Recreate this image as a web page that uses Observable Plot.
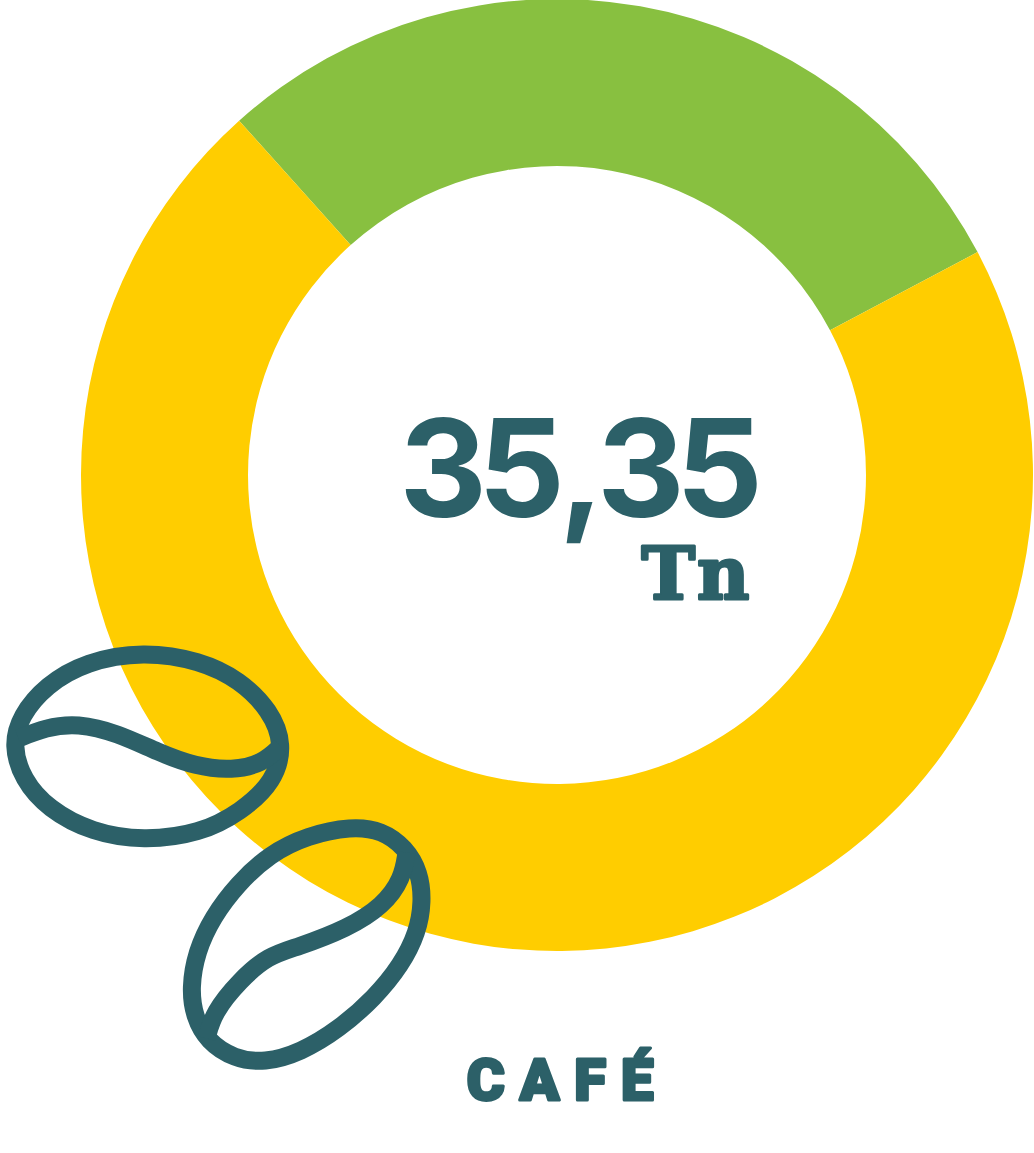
<!DOCTYPE html>
<html><head><meta charset="utf-8">
<script src="https://cdn.jsdelivr.net/npm/d3@7"></script>
<script src="https://cdn.jsdelivr.net/npm/@observablehq/plot@0.6"></script>
<style>html,body{margin:0;padding:0;background:#fff}svg{display:block}</style>
</head><body><div id="chart"></div>
<script>
const W = 1034, H = 1153;
const categories = ["Verde", "Amarillo"];
const values = [10.21, 25.14];
const colors = ["#88c040", "#ffcd00"];
const ink = "#2c6068";
const total = "35,35";
const unit = "Tn";
const title = "CAFÉ";

// decorative bean outlines (illustration, in page units)
const bean1Outline = [[15,745],[23,716],[48,686],[87,663],[143,653],[198,662],[237,681],[267,711],[280,744],[271,780],[238,810],[198,831],[143,838],[93,830],[50,807],[25,778]];
const bean1Seam = [[18,738],[45,727],[77,722.5],[117,732.5],[158,752],[195,766],[232,770],[262,763],[280,746]];
const bean2Outline = [[350,828],[380,832],[403,849],[417,873],[420,902],[415,932],[399,964],[373,996],[338,1027],[300,1050],[265,1060],[235,1056],[209,1039],[196,1015],[192,987],[198,951],[214,917],[238,885],[270,855],[307,837]];
const bean2Seam = [[406,852],[402,878],[383,905],[347,928],[296,947],[268,955],[239,980],[213,1012],[206,1038]];

const toPts = (a) => a.map(([x, y]) => ({x, y}));
const inflate = (a, k) => {
  const mx = d3.mean(a, d => d[0]), my = d3.mean(a, d => d[1]);
  return a.map(([x, y]) => [mx + (x - mx) * k, my + (y - my) * k]);
};

function donut(index, {x, y}) {
  const cx = x(557), cy = y(475), unitX = x(1) - x(0);
  const start = -41.9 * Math.PI / 180;
  const pie = d3.pie().sort(null).startAngle(start).endAngle(start + 2 * Math.PI)(values);
  const arc = d3.arc().innerRadius(309 * unitX).outerRadius(476 * unitX);
  const g = d3.create("svg:g").attr("transform", `translate(${cx},${cy})`);
  g.selectAll("path").data(pie).join("path").attr("d", arc).attr("fill", (d, i) => colors[i]);
  return g.node();
}

const spaced = (s, dx) => (i, sc, v, d, c, next) => {
  const g = next(i, sc, v, d, c);
  g.setAttribute("letter-spacing", s);
  if (dx) g.querySelectorAll("text").forEach(t => t.setAttribute("dx", dx));
  return g;
};
const beanLine = (pts, curve) => Plot.line(toPts(pts), {x:"x", y:"y", curve, stroke:ink, strokeWidth:18, strokeLinecap:"butt", strokeLinejoin:"round"});

const plot = Plot.plot({
  width: W, height: H, margin: 0,
  x: {domain: [0, W], range: [0, W], axis: null},
  y: {domain: [0, H], range: [0, H], axis: null},
  marks: [
    donut,
    beanLine(inflate(bean1Outline, 1.025), "basis-closed"),
    beanLine(bean1Seam, "basis"),
    beanLine(inflate(bean2Outline, 1.02), "basis-closed"),
    beanLine(bean2Seam, "basis"),
    Plot.text([total], {x:()=>576, y:()=>516, text:d=>d, fill:ink, fontFamily:"Inter", fontWeight:700, fontSize:136, textAnchor:"middle", lineAnchor:"bottom", render:spaced("-9px", "0 0 6 5 0")}),
    Plot.text([unit], {x:()=>696, y:()=>598, text:d=>d, fill:ink, stroke:ink, strokeWidth:3, fontFamily:"DejaVu Serif", fontWeight:700, fontSize:72, textAnchor:"middle", lineAnchor:"bottom", render:spaced("2px")}),
    Plot.text([title], {x:()=>567, y:()=>1099, text:d=>d, fill:ink, stroke:ink, strokeWidth:3, fontFamily:"Roboto", fontWeight:900, fontSize:58, textAnchor:"middle", lineAnchor:"bottom", render:spaced("15px")})
  ]
});
document.getElementById("chart").append(plot);
</script></body></html>
